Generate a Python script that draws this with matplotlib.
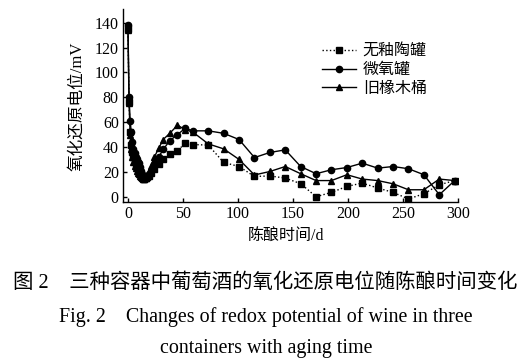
import matplotlib
matplotlib.use("Agg")
import matplotlib.pyplot as plt

plt.rcParams['font.family'] = ['Liberation Serif', 'Noto Sans CJK SC']

days = [0, 1, 2, 3, 4, 5, 6, 7, 8, 9, 10, 11, 12, 13, 14, 15, 16, 17, 19, 21, 24, 28, 32, 38, 45, 52, 59,
        73, 87, 101, 115, 129, 143, 157, 171, 185, 199, 213, 227, 241, 255, 269, 283, 297]

ceramic = [135, 76, 52, 42, 36, 32, 29, 26, 24, 22, 20, 18, 17, 16, 15, 14, 15, 16, 17, 19, 22, 26, 30, 34, 37, 43, 42,
           41.5, 27.6, 24.3, 16.3, 16.7, 15, 10.5, 0, 3.5, 8.3, 11, 7, 3.5, -1.8, 2.4, 9.6, 13]
micro_ox = [138, 80, 61, 52, 44, 38, 35, 32, 30, 28, 27, 24, 21, 18, 16, 15, 15, 16, 18, 21, 26, 32, 38, 45, 50, 55, 53,
            53, 51, 46, 31.5, 35.6, 37.7, 24.3, 18.5, 21.7, 23.5, 27, 23, 24.3, 22.5, 17.7, 1.6, 13]
oak = [134, 75, 50, 38, 32, 28, 25, 23, 21, 19, 18, 17, 16, 15, 14, 14, 15, 17, 20, 25, 32, 39, 46, 51, 57.5, 54, 52,
       42.5, 38.5, 30, 17.5, 20.3, 24.3, 18.5, 13, 13, 17.7, 14.2, 13, 10.4, 5.6, 5.6, 14.2, 13]

labels = ['无釉陶罐', '微氧罐', '旧橡木桶']
x_ticks = [0, 50, 100, 150, 200, 250, 300]
y_ticks = [0, 20, 40, 60, 80, 100, 120, 140]

W, H = 530, 361
fig = plt.figure(figsize=(W / 100, H / 100), dpi=100)
ax = fig.add_axes([123 / W, 1 - 201.7 / H, (458 - 123) / W, (201.7 - 9) / H])

ax.plot(days, ceramic, linestyle=':', color='black', lw=1, marker='s', ms=4.2, mfc='black', mec='black', label=labels[0])
ax.plot(days, micro_ox, linestyle='-', color='black', lw=1, marker='o', ms=4.5, mfc='black', mec='black', label=labels[1])
ax.plot(days, oak, linestyle='-', color='black', lw=1, marker='^', ms=4.5, mfc='black', mec='black', label=labels[2])

ax.set_xlim(-4.5, 300)
ax.set_ylim(-4, 151)
ax.set_xticks(x_ticks)
ax.set_yticks(y_ticks)
for s in ['top', 'right']:
    ax.spines[s].set_visible(False)
for s in ['left', 'bottom']:
    ax.spines[s].set_linewidth(1)
ax.tick_params(direction='in', length=3, width=1, labelsize=11.5, pad=3)

leg = ax.legend(loc='upper left', bbox_to_anchor=((322 - 123) / (458 - 123), 1 - (44 - 9) / (201.7 - 9)),
                frameon=False, fontsize=11.5, handlelength=2.1, handletextpad=0.45, labelspacing=0.15,
                borderpad=0, borderaxespad=0)

fig.text(77 / W, 1 - 106 / H, '氧化还原电位/mV', rotation=90, ha='center', va='center', fontsize=12)
fig.text(286 / W, 1 - 237 / H, '陈酿时间/d', ha='center', va='center', fontsize=11.5)

fig.text(265 / W, 1 - 283 / H, '图 2    三种容器中葡萄酒的氧化还原电位随陈酿时间变化', ha='center', va='center', fontsize=14.7)
fig.text(265.5 / W, 1 - 317 / H, 'Fig. 2    Changes of redox potential of wine in three', ha='center', va='center', fontsize=14.4)
fig.text(266 / W, 1 - 349 / H, 'containers with aging time', ha='center', va='center', fontsize=14.4)

fig.savefig('out.png', dpi=100)
